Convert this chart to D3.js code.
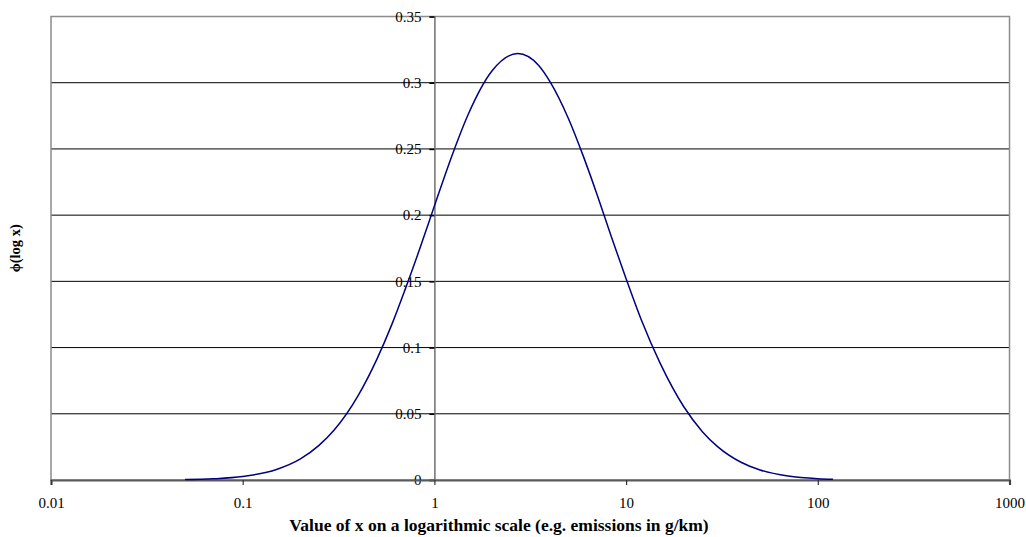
<!DOCTYPE html>
<html>
<head>
<meta charset="utf-8">
<script src="https://cdn.jsdelivr.net/npm/d3@7"></script>
<style>
  html, body { margin: 0; padding: 0; background: #fff; }
  svg { display: block; }
  text { font-family: "Liberation Serif", "Times New Roman", serif; fill: #000; }
</style>
</head>
<body>
<svg id="chart" width="1026" height="537"></svg>
<script>
// Density curve of log x, sampled at points along the x axis
const xValues = [0.05, 0.07, 0.1, 0.15, 0.2, 0.25, 0.3, 0.4, 0.5, 0.6, 0.7, 0.85, 1, 1.25, 1.5, 2, 2.718, 3.5, 4, 5, 6, 7, 8.5, 10, 12, 15, 20, 25, 30, 40, 50, 70, 100, 120];
const yValues = [0.0003, 0.0009, 0.0026, 0.0079, 0.0159, 0.0261, 0.0377, 0.0637, 0.0909, 0.1175, 0.143, 0.177, 0.207, 0.247, 0.276, 0.309, 0.322, 0.313, 0.301, 0.273, 0.244, 0.217, 0.181, 0.152, 0.121, 0.0886, 0.0553, 0.0365, 0.0252, 0.0132, 0.0076, 0.0030, 0.0010, 0.0006];

const xTicks = [0.01, 0.1, 1, 10, 100, 1000];
const xTickLabels = ["0.01", "0.1", "1", "10", "100", "1000"];
const yTicks = [0, 0.05, 0.1, 0.15, 0.2, 0.25, 0.3, 0.35];
const yTickLabels = ["0", "0.05", "0.1", "0.15", "0.2", "0.25", "0.3", "0.35"];

const xTitle = "Value of x on a logarithmic scale (e.g. emissions in g/km)";
const yTitle = "\u03d5(log x)";

const plot = { left: 51, right: 1009.5, top: 16.5, bottom: 480 };
const serif = "Liberation Serif, Times New Roman, serif";

const svg = d3.select("#chart");

const x = d3.scaleLog().domain([0.01, 1000]).range([plot.left, plot.right]);
const y = d3.scaleLinear().domain([0, 0.35]).range([plot.bottom, plot.top]);

// Horizontal gridlines
svg.append("g")
  .selectAll("line")
  .data(yTicks.filter(d => d > 0 && d < 0.35))
  .join("line")
  .attr("x1", plot.left).attr("x2", plot.right)
  .attr("y1", d => y(d)).attr("y2", d => y(d))
  .attr("stroke", "#000").attr("stroke-width", 1);

// Plot frame
svg.append("rect")
  .attr("x", plot.left).attr("y", plot.top)
  .attr("width", plot.right - plot.left).attr("height", plot.bottom - plot.top)
  .attr("fill", "none").attr("stroke", "#8c8c8c").attr("stroke-width", 1.5);

// Vertical axis crossing at x = 1
const yAxisX = x(1);
const yAxis = d3.axisLeft(y)
  .tickValues(yTicks)
  .tickFormat((d, i) => yTickLabels[i])
  .tickSize(5)
  .tickPadding(8);
const gy = svg.append("g").attr("transform", `translate(${yAxisX},0)`).call(yAxis);
gy.select(".domain").attr("stroke", "#707070").attr("stroke-width", 1.5);
gy.selectAll(".tick line").attr("stroke", "#000").attr("stroke-width", 1.5);
gy.selectAll(".tick text")
  .attr("font-size", 15)
  .attr("font-family", serif)
  .attr("fill", "#000");

// Horizontal axis along the bottom
const xAxis = d3.axisBottom(x)
  .tickValues(xTicks)
  .tickFormat((d, i) => xTickLabels[i])
  .tickSize(5)
  .tickPadding(12);
const gx = svg.append("g").attr("transform", `translate(0,${plot.bottom})`).call(xAxis);
gx.select(".domain").attr("stroke", "#5a5a5a").attr("stroke-width", 2.2);
gx.selectAll(".tick line").attr("stroke", "#333").attr("stroke-width", 1.2);
gx.selectAll(".tick text")
  .attr("font-size", 15)
  .attr("font-family", serif)
  .attr("fill", "#000");

// Curve
const line = d3.line()
  .x((d, i) => x(xValues[i]))
  .y((d, i) => y(yValues[i]))
  .curve(d3.curveMonotoneX);

svg.append("path")
  .datum(yValues)
  .attr("d", line)
  .attr("fill", "none")
  .attr("stroke", "#000080")
  .attr("stroke-width", 1.5);

// Axis titles
svg.append("text")
  .attr("x", 499).attr("y", 531)
  .attr("text-anchor", "middle")
  .attr("font-family", serif)
  .attr("font-size", 17.5).attr("font-weight", "bold")
  .text(xTitle);

svg.append("text")
  .attr("transform", `translate(20,${(plot.top + plot.bottom) / 2}) rotate(-90)`)
  .attr("text-anchor", "middle")
  .attr("font-family", serif)
  .attr("font-size", 14.5).attr("font-weight", "bold")
  .text(yTitle);
</script>
</body>
</html>
